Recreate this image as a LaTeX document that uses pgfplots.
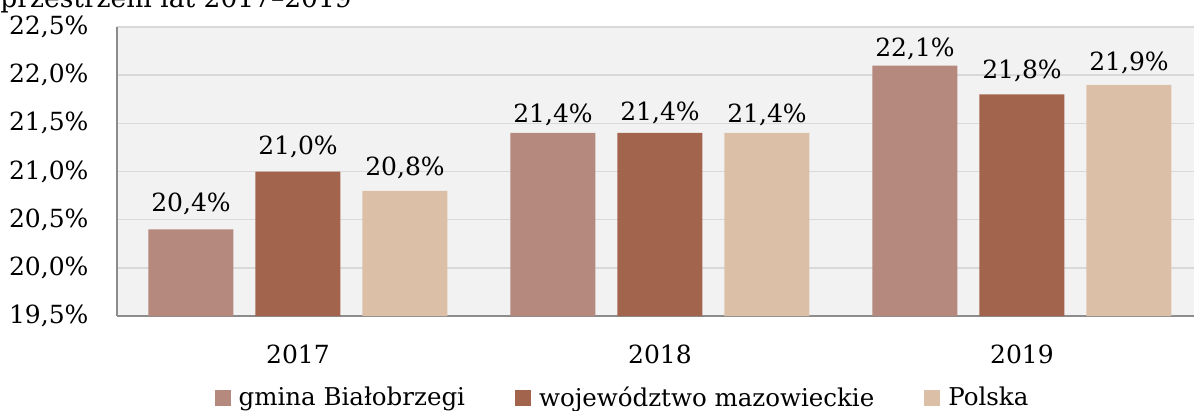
\documentclass[border=0pt]{standalone}
\usepackage{fontspec}
\setmainfont{DejaVu Serif}
\usepackage{pgfplots}
\usepackage{pgfplotstable}
\pgfplotsset{compat=1.18}
\definecolor{c1}{HTML}{B5897D}
\definecolor{c2}{HTML}{A3644E}
\definecolor{c3}{HTML}{DBC0A7}
\definecolor{bg}{HTML}{F2F2F2}
\definecolor{gridc}{HTML}{D9D9D9}
\definecolor{axc}{HTML}{8C8C8C}
\pgfplotsset{sqlegend/.style={legend image code/.code={\fill[##1] (0pt,-3.2pt) rectangle (6.4pt,3.2pt);}}}
% x value dy(label offset, pt)
\pgfplotstableread{
x y dy
0 20.4 7.2
1 21.4 4.0
2 22.1 3.7
}\gmina
\pgfplotstableread{
x y dy
0 21.0 6.8
1 21.4 5.0
2 21.8 6.4
}\woj
\pgfplotstableread{
x y dy
0 20.8 6.0
1 21.4 4.0
2 21.9 5.6
}\polska
\begin{document}
\begin{tikzpicture}[font=\fontsize{10pt}{12pt}\selectfont]
\useasboundingbox (-46.8pt,-37.6pt) rectangle (430.8pt,126.4pt);
\clip (-46.8pt,-37.6pt) rectangle (430.8pt,126.4pt);
\begin{axis}[
  at={(0pt,0pt)}, anchor=south west,
  scale only axis, width=434.4pt, height=115.6pt,
  ybar=8.8pt, bar width=34pt,
  xmin=-0.5, xmax=2.5, ymin=19.5, ymax=22.5,
  xtick={0,1,2}, xticklabels={2017,2018,2019},
  ytick={19.5,20,20.5,21,21.5,22,22.5},
  /pgf/number format/assume math mode=true,
  yticklabel={\pgfmathprintnumber[fixed,fixed zerofill,precision=1,use comma,assume math mode=true]{\tick}\%},
  yticklabel style={anchor=east, inner sep=0pt, xshift=-11.2pt},
  xticklabel style={anchor=base, inner sep=0pt, yshift=-18.8pt},
  major tick length=0pt,
  axis x line*=bottom, axis y line*=left,
  axis line style={draw=axc, line width=0.8pt, -},
  ymajorgrids, grid style={draw=gridc, line width=0.6pt},
  axis background/.style={fill=bg},
  visualization depends on={\thisrow{dy} \as \dy},
  nodes near coords={\pgfmathprintnumber[fixed,fixed zerofill,precision=1,use comma,assume math mode=true]{\pgfplotspointmeta}\%},
  every node near coord/.append style={anchor=base, inner sep=0pt, yshift=\dy pt, text=black},
  legend style={at={(0.4646,-0.285)}, anchor=center, draw=none, fill=none, inner sep=0pt,
    font=\fontsize{9.8pt}{12pt}\selectfont,
    nodes={inner xsep=0pt},
    legend columns=3,
    /tikz/every odd column/.append style={column sep=3.2pt},
    /tikz/every even column/.append style={column sep=20pt},
    legend cell align=left},
]
\addplot[fill=c1, draw=none, sqlegend] table[x=x,y=y] {\gmina};
\addlegendentry{gmina Białobrzegi}
\addplot[fill=c2, draw=none, sqlegend] table[x=x,y=y] {\woj};
\addlegendentry{województwo mazowieckie}
\addplot[fill=c3, draw=none, sqlegend] table[x=x,y=y] {\polska};
\addlegendentry{Polska}
\end{axis}
\node[anchor=base west, inner sep=0pt, font=\fontsize{10.6pt}{13pt}\selectfont] at (-46.8pt,123.6pt) {przestrzeni lat 2017–2019};
\end{tikzpicture}
\end{document}
